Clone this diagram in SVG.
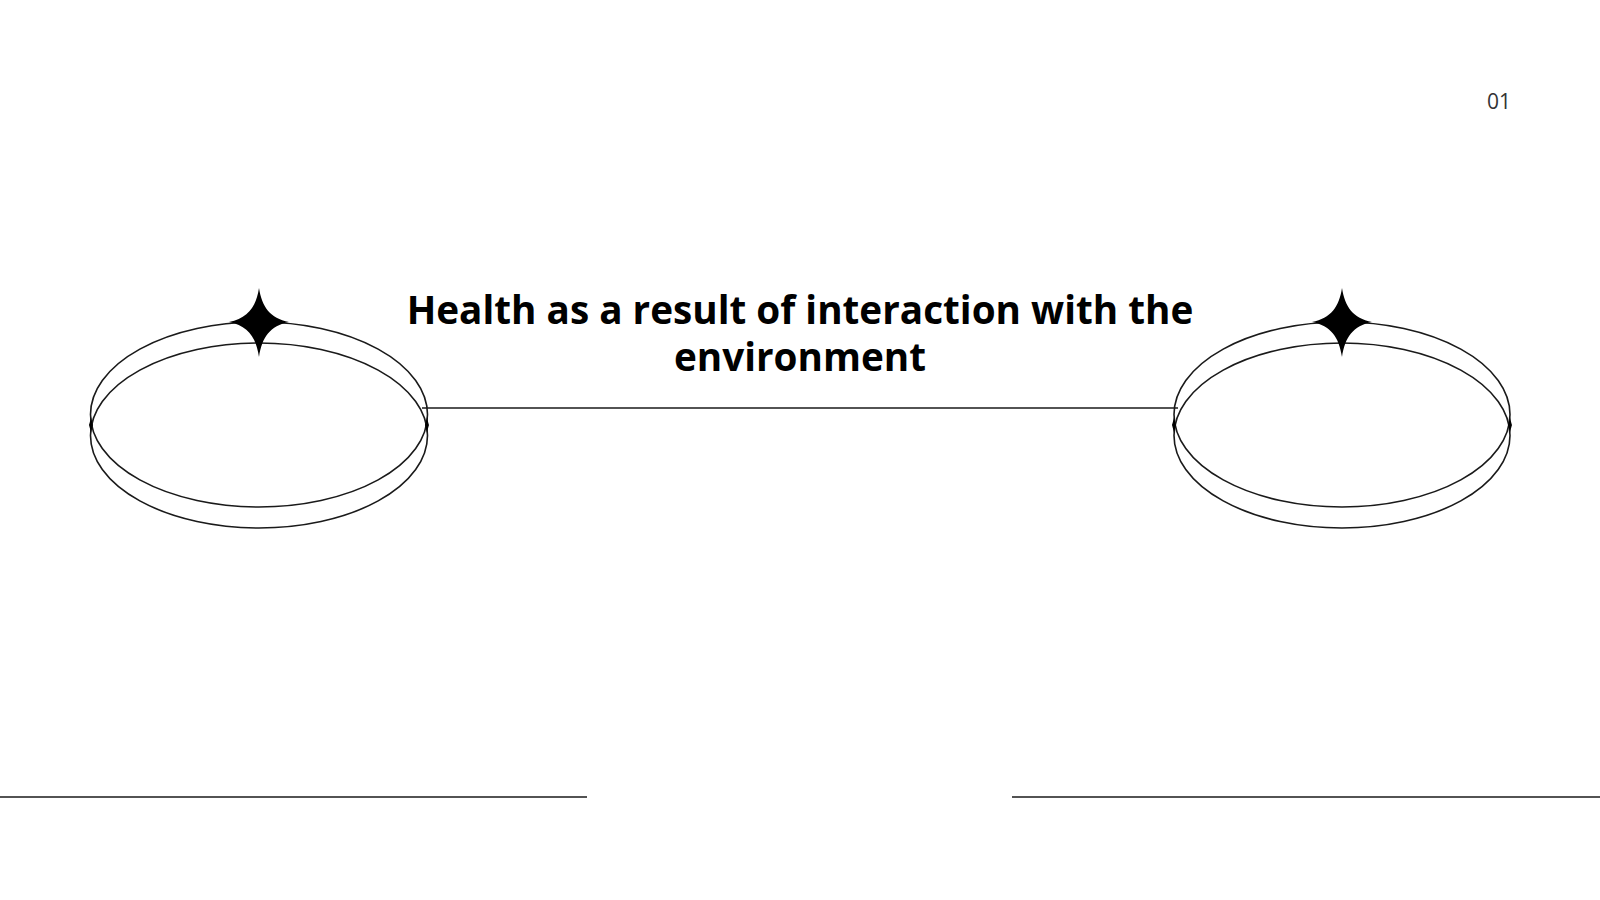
<svg xmlns="http://www.w3.org/2000/svg" width="1600" height="900" viewBox="0 0 1600 900">
<style>
.ring{fill:none;stroke:#1a1a1a;stroke-width:1.6}
.line{fill:none;stroke:#1a1a1a;stroke-width:1.6}
.star{fill:#000}
.title{font-family:"Open Sans","Noto Sans","Liberation Sans",sans-serif;font-weight:700;font-size:38.7px;fill:#000;text-anchor:middle}
.num{font-family:"Open Sans","Noto Sans","Liberation Sans",sans-serif;font-size:21px;fill:#333;text-anchor:end}
</style>
<defs>
<path id="star4" d="M0,-34 C3,-15 11,-4 30,0 C11,4 3,15 0,35 C-3,15 -11,4 -30,0 C-11,-4 -3,-15 0,-34Z"/>
<path id="pinch" d="M0,-8 C1,-3 2,0 2,0 C2,0 1,3 0,8 C-1,3 -2,0 -2,0 C-2,0 -1,-3 0,-8Z"/>
</defs>
<rect width="1600" height="900" fill="#fff"/>
<g id="connectors">
<line class="line" x1="422" y1="408" x2="1178" y2="408"/>
<line class="line" x1="0" y1="797" x2="587" y2="797"/>
<line class="line" x1="1012" y1="797" x2="1600" y2="797"/>
</g>
<g id="node-left">
<ellipse class="ring" cx="259" cy="414.5" rx="168.5" ry="92.5"/>
<ellipse class="ring" cx="259" cy="435.5" rx="168.5" ry="92.5"/>
<use href="#star4" class="star" x="259" y="322"/>
<use href="#pinch" class="star" x="91" y="425"/>
<use href="#pinch" class="star" x="427" y="425"/>
</g>
<g id="node-right">
<ellipse class="ring" cx="1342" cy="414.5" rx="168" ry="92.5"/>
<ellipse class="ring" cx="1342" cy="435.5" rx="168" ry="92.5"/>
<use href="#star4" class="star" x="1342" y="322"/>
<use href="#pinch" class="star" x="1174" y="425"/>
<use href="#pinch" class="star" x="1510" y="425"/>
</g>
<g id="title">
<text class="title" x="800" y="324">Health as a result of interaction with the</text>
<text class="title" x="800" y="371">environment</text>
</g>
<text class="num" x="1511" y="109">01</text>
</svg>
